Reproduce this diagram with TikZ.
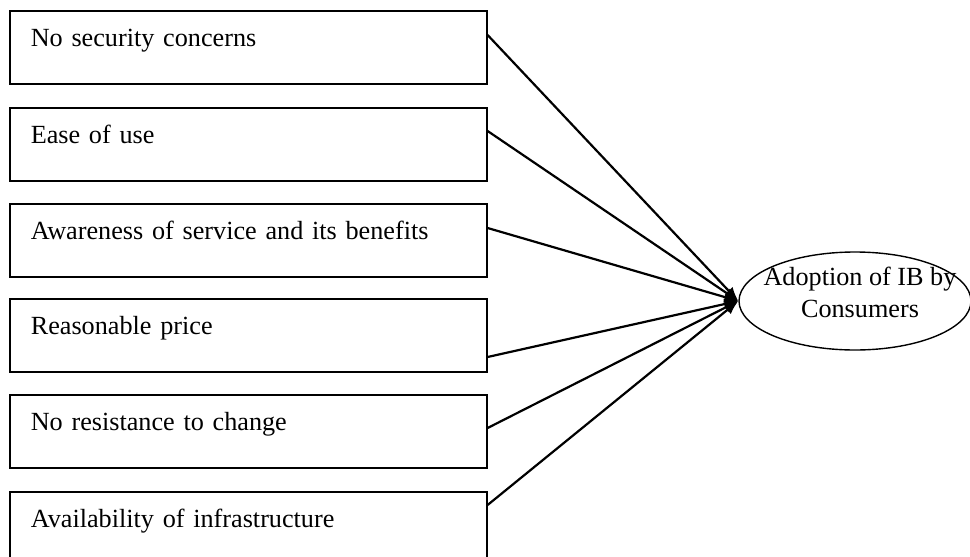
\documentclass[tikz,border=0pt]{standalone}
\usepackage{fontspec}
\setmainfont{Liberation Serif}
\usetikzlibrary{shapes.geometric,arrows.meta}
\begin{document}
\begin{tikzpicture}[x=1pt,y=-1pt,
  factor/.style={draw, line width=1.6pt, anchor=north west, minimum width=477pt,
    text width=435pt, align=left, inner xsep=21pt, inner ysep=0pt,
    text height=36pt, text depth=37pt, font=\fontsize{26.2}{31}\selectfont},
  outcome/.style={draw, ellipse, line width=1.4pt, minimum width=232pt, minimum height=98pt,
    inner sep=0pt},
  outtext/.style={inner sep=0pt, align=center, font=\fontsize{26.2}{32}\selectfont},
  arr/.style={line width=2.2pt, -{Latex[length=14pt,width=11pt]}}]
\useasboundingbox (0,0) rectangle (970,557);
\node[factor] (b1) at (9,10) {No security concerns};
\node[factor] (b2) at (9,107) {Ease of use};
\node[factor] (b3) at (9,203) {Awareness of service and its benefits};
\node[factor] (b4) at (9,298) {Reasonable price};
\node[factor] (b5) at (9,394) {No resistance to change};
\node[factor] (b6) at (9,491) {Availability of infrastructure};
\node[outcome] (e) at (855,301) {};
\node[outtext] (et) at (860,292) {Adoption of IB by\\Consumers};
\draw[arr] ([yshift=-25pt]b1.north east) -- (e.west);
\draw[arr] ([yshift=-24pt]b2.north east) -- (e.west);
\draw[arr] ([yshift=-25pt]b3.north east) -- (e.west);
\draw[arr] ([yshift=-59pt]b4.north east) -- (e.west);
\draw[arr] ([yshift=-34pt]b5.north east) -- (e.west);
\draw[arr] ([yshift=-14pt]b6.north east) -- (e.west);
\end{tikzpicture}
\end{document}
